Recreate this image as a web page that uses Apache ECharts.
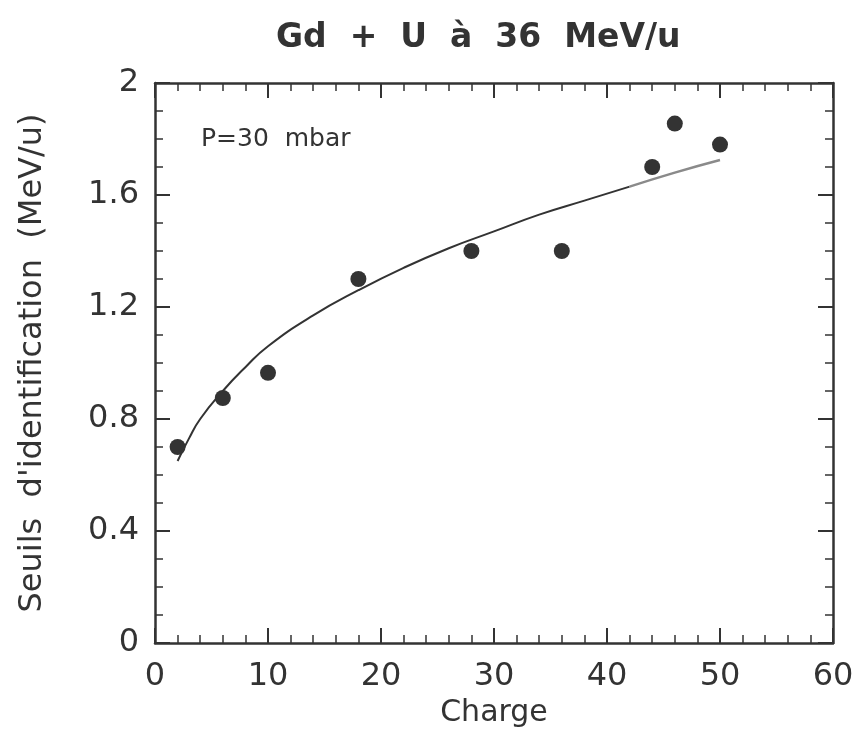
<!DOCTYPE html>
<html>
<head>
<meta charset="utf-8">
<script src="https://cdn.jsdelivr.net/npm/echarts@6/dist/echarts.min.js"></script>
<style>
html,body{margin:0;padding:0;background:#fff;}
#chart{width:860px;height:742px;}
</style>
</head>
<body>
<div id="chart"></div>
<script>
// Data
const charge = [2, 6, 10, 18, 28, 36, 44, 46, 50];
const seuil = [0.70, 0.875, 0.965, 1.30, 1.40, 1.40, 1.70, 1.855, 1.78];
const fitCharge = [2, 3, 4, 6, 8, 10, 14, 18, 22, 26, 30, 34, 38, 42, 46, 50];
const fitSeuil = [0.65, 0.73, 0.80, 0.90, 0.985, 1.06, 1.17, 1.26, 1.34, 1.41, 1.47, 1.53, 1.58, 1.63, 1.68, 1.725];
const fadeFromIndex = 13; // the scan fades to grey from Z≈42
const titleText = 'Gd  +  U  à  36  MeV/u';
const xName = 'Charge';
const yName = 'Seuils  d\'identification  (MeV/u)';
const noteText = 'P=30  mbar';

const ink = '#333333';
const font = 'DejaVu Sans';

const points = charge.map((c, i) => [c, seuil[i]]);
const fit = fitCharge.map((c, i) => [c, fitSeuil[i]]);
const fitMain = fit.slice(0, fadeFromIndex + 1);
const fitFade = fit.slice(fadeFromIndex);

const tickCommon = (len) => ({show: true, inside: true, length: len, lineStyle: {color: ink, width: 2}});
const minorCommon = (n) => ({show: true, splitNumber: n, length: 8, lineStyle: {color: ink, width: 1.5}});

const chart = echarts.init(document.getElementById('chart'));
chart.setOption({
  animation: false,
  backgroundColor: '#fff',
  title: {
    text: titleText,
    left: 271, top: 17,
    textStyle: {fontFamily: font, fontWeight: 'bold', fontSize: 33, color: ink}
  },
  graphic: [{
    type: 'text', left: 201, top: 127,
    style: {text: noteText, fontFamily: font, fontSize: 25, fill: ink}
  }],
  grid: {left: 155, right: 27, top: 83, bottom: 99},
  xAxis: [{
    type: 'value', min: 0, max: 60, interval: 10, position: 'bottom',
    name: xName, nameLocation: 'middle', nameGap: 51,
    nameTextStyle: {fontFamily: font, fontSize: 30, color: ink},
    axisLine: {show: true, onZero: false, lineStyle: {color: ink, width: 2.5}},
    axisTick: tickCommon(15), minorTick: minorCommon(5),
    axisLabel: {fontFamily: font, fontSize: 32, color: ink, margin: 18},
    splitLine: {show: false}
  }, {
    type: 'value', min: 0, max: 60, interval: 10, position: 'top',
    axisLine: {show: true, onZero: false, lineStyle: {color: ink, width: 2.5}},
    axisTick: tickCommon(15), minorTick: minorCommon(5),
    axisLabel: {show: false}, splitLine: {show: false}
  }],
  yAxis: [{
    type: 'value', min: 0, max: 2, interval: 0.4, position: 'left',
    name: yName, nameLocation: 'middle', nameGap: 106, nameRotate: 90,
    nameTextStyle: {fontFamily: font, fontSize: 32, color: ink},
    axisLine: {show: true, onZero: false, lineStyle: {color: ink, width: 2.5}},
    axisTick: tickCommon(15), minorTick: minorCommon(4),
    axisLabel: {fontFamily: font, fontSize: 32, color: ink, margin: 16},
    splitLine: {show: false}
  }, {
    type: 'value', min: 0, max: 2, interval: 0.4, position: 'right',
    axisLine: {show: true, onZero: false, lineStyle: {color: ink, width: 2.5}},
    axisTick: tickCommon(15), minorTick: minorCommon(4),
    axisLabel: {show: false}, splitLine: {show: false}
  }],
  series: [{
    type: 'line', data: fitMain, smooth: 0.5, showSymbol: false, symbol: 'none',
    lineStyle: {color: ink, width: 2}, z: 2
  }, {
    type: 'line', data: fitFade, smooth: 0.5, showSymbol: false, symbol: 'none',
    lineStyle: {color: '#8a8a8a', width: 2.5}, z: 2
  }, {
    type: 'scatter', data: points, symbol: 'circle', symbolSize: 16,
    itemStyle: {color: ink, opacity: 1}, z: 3
  }]
});
</script>
</body>
</html>
